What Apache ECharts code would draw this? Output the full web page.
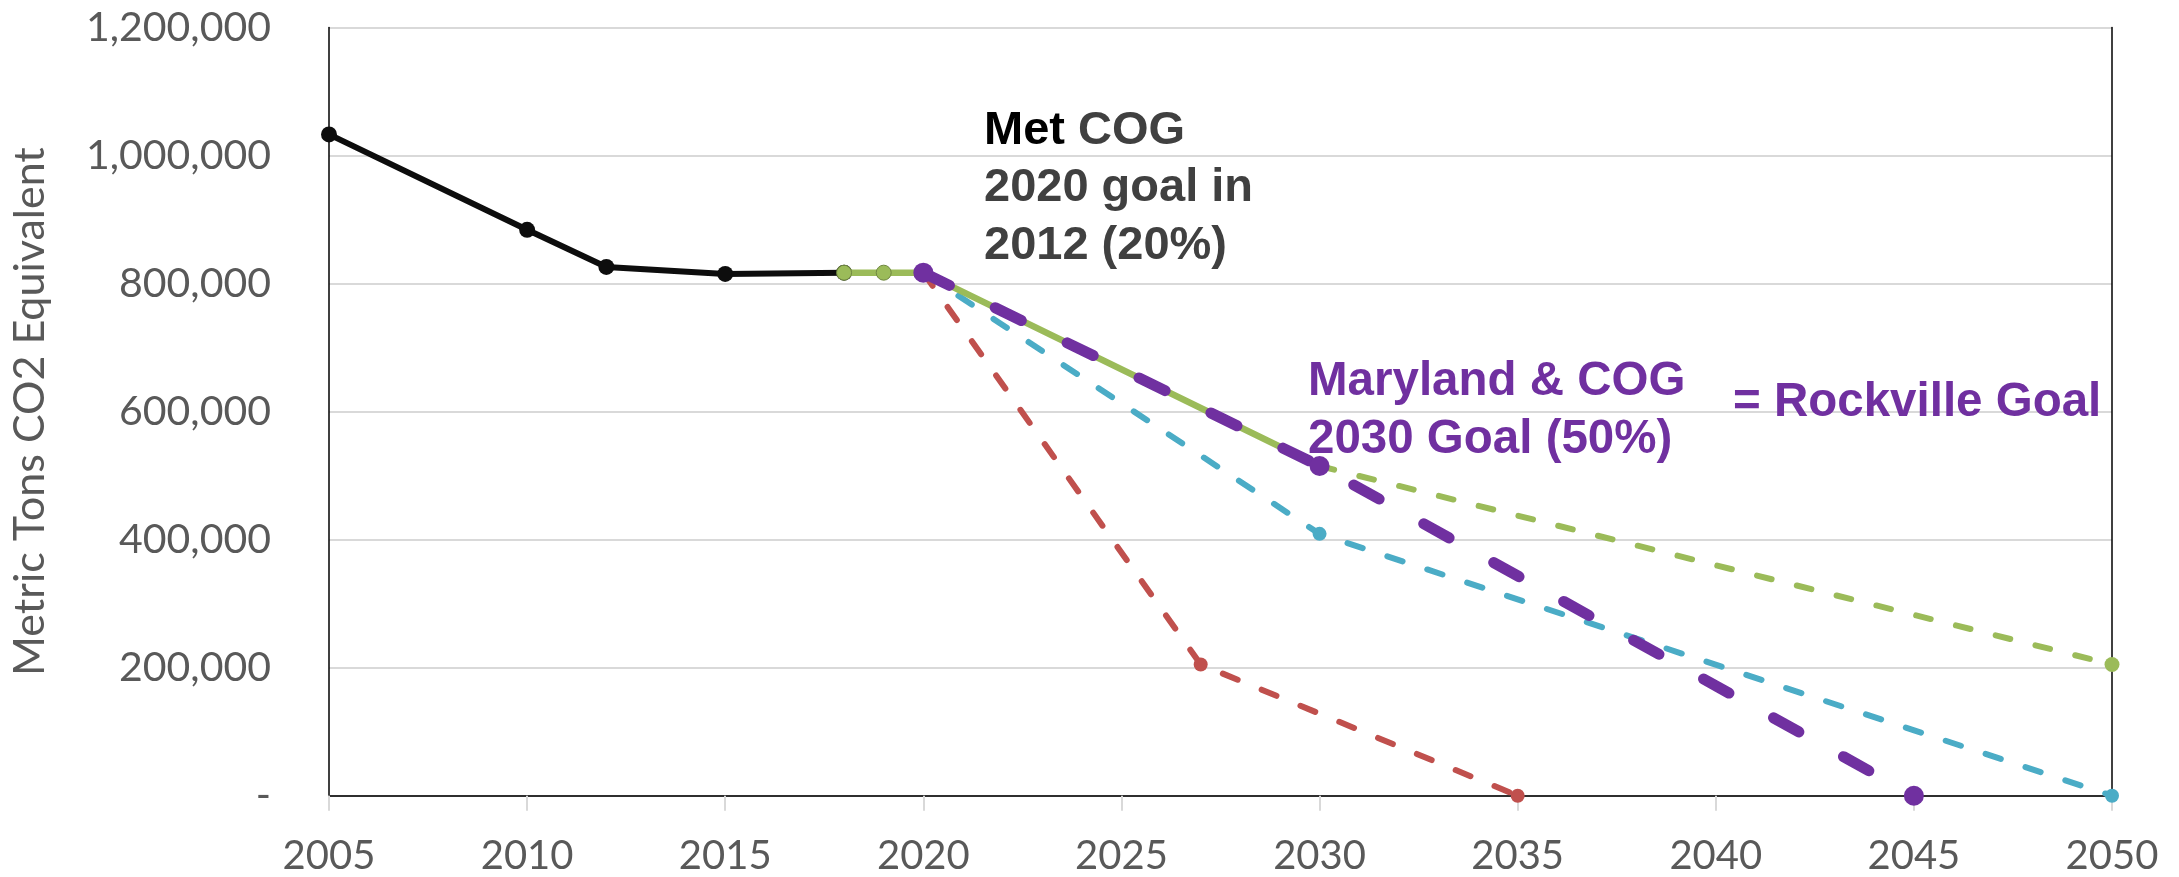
<!DOCTYPE html>
<html>
<head>
<meta charset="utf-8">
<script src="https://cdn.jsdelivr.net/npm/echarts@6/dist/echarts.min.js"></script>
<style>
html,body{margin:0;padding:0;background:#fff;}
#chart{width:2179px;height:877px;}
</style>
</head>
<body>
<div id="chart"></div>
<script>
// ---- data ----
const actualYears = [2005, 2010, 2012, 2015, 2018];
const actualValues = [1033000, 884000, 826000, 815000, 817000];

const greenSolidYears = [2018, 2019, 2020, 2030];
const greenSolidValues = [817000, 817000, 817000, 515000];

const greenDashYears = [2030, 2050];
const greenDashValues = [515000, 205000];

const purpleYears = [2020, 2030, 2045];
const purpleValues = [817000, 515000, 0];

const blueYears = [2020, 2030, 2050];
const blueValues = [817000, 409000, 0];

const redYears = [2020, 2027, 2035];
const redValues = [817000, 205000, 0];

const yTicks = [0, 200000, 400000, 600000, 800000, 1000000, 1200000];
const xTicks = [2005, 2010, 2015, 2020, 2025, 2030, 2035, 2040, 2045, 2050];

const yTitle = 'Metric Tons CO2 Equivalent';

function pairs(xs, ys) { return xs.map((x, i) => [x, ys[i]]); }

const chart = echarts.init(document.getElementById('chart'), null, {renderer: 'canvas'});

const labelFont = 'Lato';
const gray = '#595959';

function line(name, xs, ys, color, width, dash, sym, z, border) {
  return {
    name: name,
    type: 'line',
    xAxisIndex: 0, yAxisIndex: 0,
    data: pairs(xs, ys),
    symbol: 'circle',
    symbolSize: sym,
    showSymbol: true,
    z: z,
    animation: false,
    itemStyle: {color: color, borderWidth: border ? 1 : 0, borderColor: border || color},
    lineStyle: {color: color, width: width, type: dash, cap: 'round', join: 'round'}
  };
}

const option = {
  backgroundColor: '#ffffff',
  animation: false,
  grid: {left: 329, right: 67, top: 27.5, bottom: 81.3, containLabel: false, outerBoundsMode: 'none'},
  xAxis: [{
    type: 'value', min: xTicks[0], max: xTicks[xTicks.length - 1], interval: 5,
    axisLine: {show: true, lineStyle: {color: '#bfbfbf', width: 2}},
    axisTick: {show: true, length: 15, lineStyle: {color: '#d9d9d9', width: 2}},
    axisLabel: {color: gray, fontFamily: labelFont, fontSize: 40, margin: 60, verticalAlign: 'middle',
      formatter: v => String(v)},
    splitLine: {show: false}
  }, {
    type: 'value', position: 'top', min: xTicks[0], max: xTicks[xTicks.length - 1],
    axisLine: {show: true, lineStyle: {color: '#000000', width: 1.5}},
    axisTick: {show: false}, axisLabel: {show: false}, splitLine: {show: false}
  }],
  yAxis: [{
    type: 'value', min: yTicks[0], max: yTicks[yTicks.length - 1], interval: 200000,
    name: yTitle, nameLocation: 'middle', nameGap: 277, nameRotate: 90,
    nameTextStyle: {color: gray, fontFamily: labelFont, fontSize: 43},
    axisLine: {show: true, lineStyle: {color: '#000000', width: 1.5}},
    axisTick: {show: false},
    axisLabel: {color: gray, fontFamily: labelFont, fontSize: 41, margin: 58,
      formatter: v => v === 0 ? '-' : v.toLocaleString('en-US')},
    splitLine: {show: true, lineStyle: {color: '#d9d9d9', width: 2}}
  }, {
    type: 'value', position: 'right', min: yTicks[0], max: yTicks[yTicks.length - 1],
    axisLine: {show: true, lineStyle: {color: '#000000', width: 1.5}},
    axisTick: {show: false}, axisLabel: {show: false}, splitLine: {show: false}
  }],
  series: [
    line('Actual', actualYears, actualValues, '#0d0d0d', 6, 'solid', 16, 3),
    line('Red', redYears, redValues, '#c0504d', 6, [16, 26], 14, 4),
    line('Blue', blueYears, blueValues, '#4bacc6', 6, [16, 26], 14, 5),
    line('GreenDash', greenDashYears, greenDashValues, '#9bbb59', 6, [15, 26], 15, 6),
    line('GreenSolid', greenSolidYears, greenSolidValues, '#9bbb59', 6.5, 'solid', 15, 7, '#6f8740'),
    line('Purple', purpleYears, purpleValues, '#7030a0', 11, [29, 51], 20, 8)
  ],
  graphic: [
    {
      type: 'text', left: 984, top: 102, z: 100,
      style: {
        text: '{k|Met} {g|COG}\n{g|2020 goal in}\n{g|2012 (20%)}',
        font: 'bold 47px "Liberation Sans"',
        lineHeight: 57.5,
        rich: {
          k: {fill: '#000000', font: 'bold 47px "Liberation Sans"', lineHeight: 57.5},
          g: {fill: '#404040', font: 'bold 47px "Liberation Sans"', lineHeight: 57.5}
        }
      }
    },
    {
      type: 'text', left: 1308, top: 353, z: 100,
      style: {
        text: 'Maryland & COG\n2030 Goal (50%)',
        fill: '#7030a0',
        font: 'bold 47.5px "Liberation Sans"',
        lineHeight: 58
      }
    },
    {
      type: 'text', left: 1733, top: 374, z: 100,
      style: {
        text: '= Rockville Goal',
        fill: '#7030a0',
        font: 'bold 47.5px "Liberation Sans"',
        lineHeight: 58
      }
    }
  ]
};

chart.setOption(option);
</script>
</body>
</html>
